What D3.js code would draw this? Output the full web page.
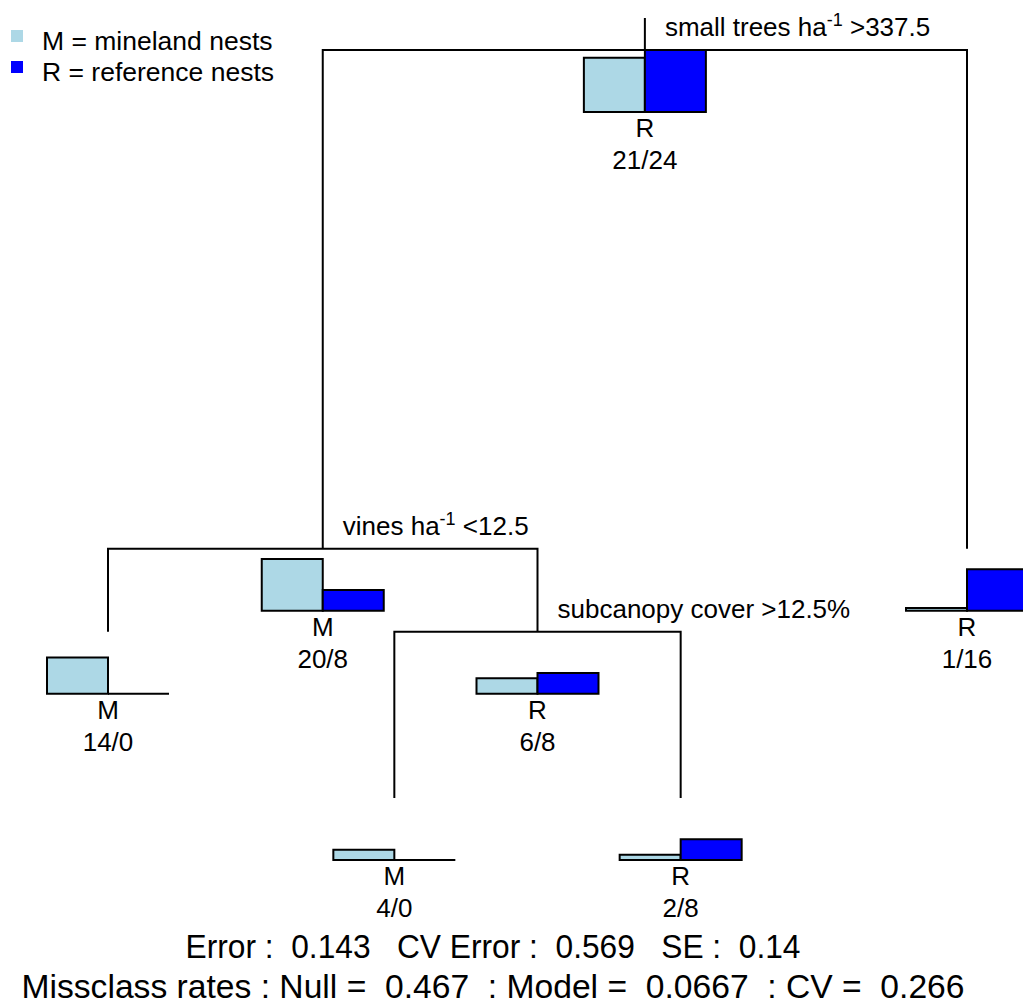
<!DOCTYPE html>
<html>
<head>
<meta charset="utf-8">
<script src="https://cdn.jsdelivr.net/npm/d3@7"></script>
<style>
  html, body { margin: 0; padding: 0; background: #fff; }
  svg { display: block; font-family: "Liberation Sans", Arial, Helvetica, sans-serif; }
  .summary { white-space: pre; }
</style>
</head>
<body>
<svg id="chart" width="1023" height="1005"></svg>
<script>
// Classification tree for nest sites: mineland (M) vs reference (R)
const classes = ["M", "R"];
const classNames = ["M = mineland nests", "R = reference nests"];
const classColors = ["#add8e6", "#0000ff"];

// Nodes of the fitted tree (counts are M / R nests in each node)
const nodeIds     = ["root", "vines", "leafM14", "subcanopy", "leafM4", "leafR2", "leafR1"];
const nodeParents = [null, "root", "vines", "vines", "subcanopy", "subcanopy", "root"];
const countsM     = [21, 20, 14, 6, 4, 2, 1];
const countsR     = [24, 8, 0, 8, 0, 8, 16];
const predicted   = ["R", "M", "M", "R", "M", "R", "R"];
// Relative error of the tree at the level where each node sits
const relError    = [1, 9 / 21, 7 / 21, 7 / 21, 3 / 21, 3 / 21, 9 / 21];
// Split rule shown above each internal node
const splitMain   = { root: "small trees ha", vines: "vines ha", subcanopy: "subcanopy cover >12.5%" };
const splitSup    = { root: "-1", vines: "-1" };
const splitTail   = { root: " >337.5", vines: " <12.5" };
// Leaf order from left to right
const leafOrder   = ["leafM14", "leafM4", "leafR2", "leafR1"];

const summaryLine1 = "Error :  0.143   CV Error :  0.569   SE :  0.14";
const summaryLine2 = "Missclass rates : Null =  0.467  : Model =  0.0667  : CV =  0.266";

const svg = d3.select("#chart");

// Build hierarchy
const table = nodeIds.map((id, i) => ({
  id, parent: nodeParents[i], m: countsM[i], r: countsR[i],
  cls: predicted[i], rel: relError[i]
}));
const root = d3.stratify().id(d => d.id).parentId(d => d.parent)(table);

// Scales
const x = d3.scalePoint().domain(leafOrder).range([108, 967]);
const y = d3.scaleLinear().domain([1, 3 / 21]).range([50, 798]);
const h = d3.scaleLinear().domain([0, 24]).range([0, 62]);
const barW = 61;
const font = 26;

// x positions: leaves evenly spaced, internal nodes centred over their children
root.eachAfter(n => {
  if (!n.children) n.px = x(n.id);
  else n.px = (n.children[0].px + n.children[n.children.length - 1].px) / 2;
  n.py = y(n.data.rel);
});

const g = svg.append("g");

// Branches
root.each(n => {
  if (n.children) {
    const left = n.children[0], right = n.children[n.children.length - 1];
    g.append("path")
      .attr("d", `M${left.px},${left.py}V${n.py}H${right.px}V${right.py}`)
      .attr("fill", "none").attr("stroke", "#000").attr("stroke-width", 2);
  }
});
// Stub above the root
g.append("line")
  .attr("x1", root.px).attr("x2", root.px)
  .attr("y1", root.py - 32).attr("y2", root.py)
  .attr("stroke", "#000").attr("stroke-width", 2);

// Split labels
root.each(n => {
  if (!n.children) return;
  const t = g.append("text")
    .attr("x", n.px + 20).attr("y", n.py - 14)
    .attr("font-size", font).attr("fill", "#000");
  t.append("tspan").text(splitMain[n.id]);
  if (splitSup[n.id]) {
    t.append("tspan").attr("dy", -10).attr("font-size", 18).text(splitSup[n.id]);
    t.append("tspan").attr("dy", 10).text(splitTail[n.id]);
  }
});

// Bars and node labels
root.each(n => {
  const base = n.py + h(24);
  const vals = [n.data.m, n.data.r];
  vals.forEach((v, i) => {
    const x0 = n.px + (i === 0 ? -barW : 0);
    const hh = h(v);
    g.append("path")
      .attr("d", `M${x0},${base}h${barW}v${-hh}h${-barW}Z`)
      .attr("fill", classColors[i]).attr("stroke", "#000").attr("stroke-width", 2);
  });
  g.append("text").attr("x", n.px).attr("y", base + 25)
    .attr("text-anchor", "middle").attr("font-size", font).text(n.data.cls);
  g.append("text").attr("x", n.px).attr("y", base + 57)
    .attr("text-anchor", "middle").attr("font-size", font)
    .text(`${n.data.m}/${n.data.r}`);
});

// Legend
const leg = svg.append("g");
classNames.forEach((name, i) => {
  leg.append("rect").attr("x", 11).attr("y", 30 + i * 31).attr("width", 12).attr("height", 12)
    .attr("fill", classColors[i]);
  leg.append("text").attr("x", 42).attr("y", 50 + i * 31)
    .attr("font-size", 26.5).text(name);
});

// Summary
svg.append("text").attr("class", "summary").attr("x", 493).attr("y", 958).attr("text-anchor", "middle")
  .attr("font-size", 34).attr("textLength", 615).attr("lengthAdjust", "spacingAndGlyphs")
  .text(summaryLine1);
svg.append("text").attr("class", "summary").attr("x", 493).attr("y", 998).attr("text-anchor", "middle")
  .attr("font-size", 34).attr("textLength", 943).attr("lengthAdjust", "spacingAndGlyphs")
  .text(summaryLine2);
</script>
</body>
</html>
